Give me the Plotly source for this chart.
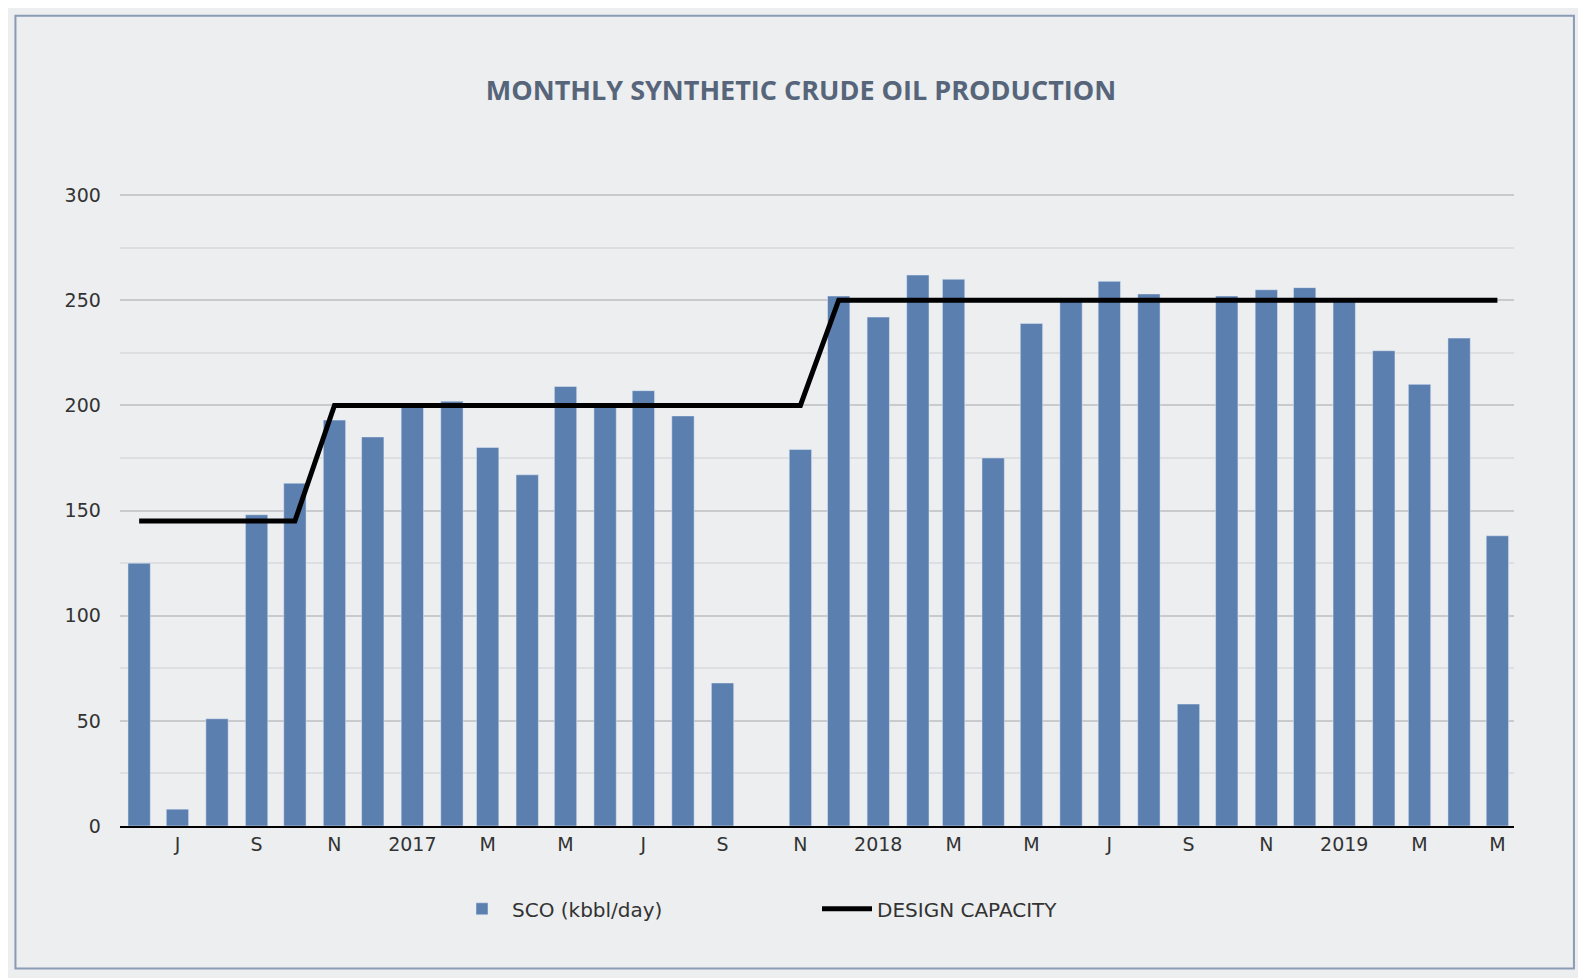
import plotly.graph_objects as go
import pandas as pd

months = pd.date_range("2016-06-01", "2019-05-01", freq="MS").strftime("%Y-%m-%d").tolist()
sco = [125, 8, 51, 148, 163, 193, 185, 200, 202, 180, 167, 209, 200, 207, 195, 68, None, 179,
       252, 242, 262, 260, 175, 239, 250, 259, 253, 58, 252, 255, 256, 250, 226, 210, 232, 138]
cap_x = ["2016-06-01", "2016-10-01", "2016-11-01", "2017-11-01", "2017-12-01", "2019-05-01"]
cap_y = [145, 145, 200, 200, 250, 250]
tick_vals = pd.date_range("2016-07-01", "2019-05-01", freq="2MS").strftime("%Y-%m-%d").tolist()
tick_text = ["J", "S", "N", "2017", "M", "M", "J", "S", "N", "2018", "M", "M", "J", "S", "N", "2019", "M", "M"]

fig = go.Figure()
fig.add_bar(x=months, y=sco, name="SCO (kbbl/day)", marker_color="#5b7faf", width=17.5*24*3600*1000)
fig.add_scatter(x=cap_x, y=cap_y, mode="lines", name="DESIGN CAPACITY", line=dict(color="black", width=5))

fig.update_layout(
    width=1586, height=978, paper_bgcolor="#eceef0", plot_bgcolor="#eceef0",
    margin=dict(l=112, r=80, t=185, b=160),
    title=dict(text="<b>MONTHLY SYNTHETIC CRUDE OIL PRODUCTION</b>", x=0.5, xanchor="center", y=0.925,
               font=dict(family="Open Sans", size=27, color="#566579")),
    font=dict(family="DejaVu Sans", size=19, color="#333"),
    legend=dict(orientation="h", x=0.5, xanchor="center", y=-0.1, yanchor="top", font=dict(size=20),
                itemwidth=50, entrywidth=300),
    showlegend=True,
    shapes=[dict(type="rect", xref="paper", yref="paper", x0=-0.075, x1=1.043, y0=-0.225, y1=1.28,
                 line=dict(color="#8a9bb5", width=2))],
)
fig.update_xaxes(type="date", range=["2016-05-17", "2019-05-14"], tickvals=tick_vals, ticktext=tick_text,
                 showgrid=False, showline=True, linecolor="black", linewidth=1.5, ticks="", ticklen=0)
fig.update_yaxes(range=[0, 301], dtick=50, gridcolor="#c8cacd", gridwidth=1.5,
                 minor=dict(dtick=25, showgrid=True, gridcolor="#dcdee1"), zeroline=False, ticklen=0,
                 ticksuffix="   ")
fig.write_html("out.html")
